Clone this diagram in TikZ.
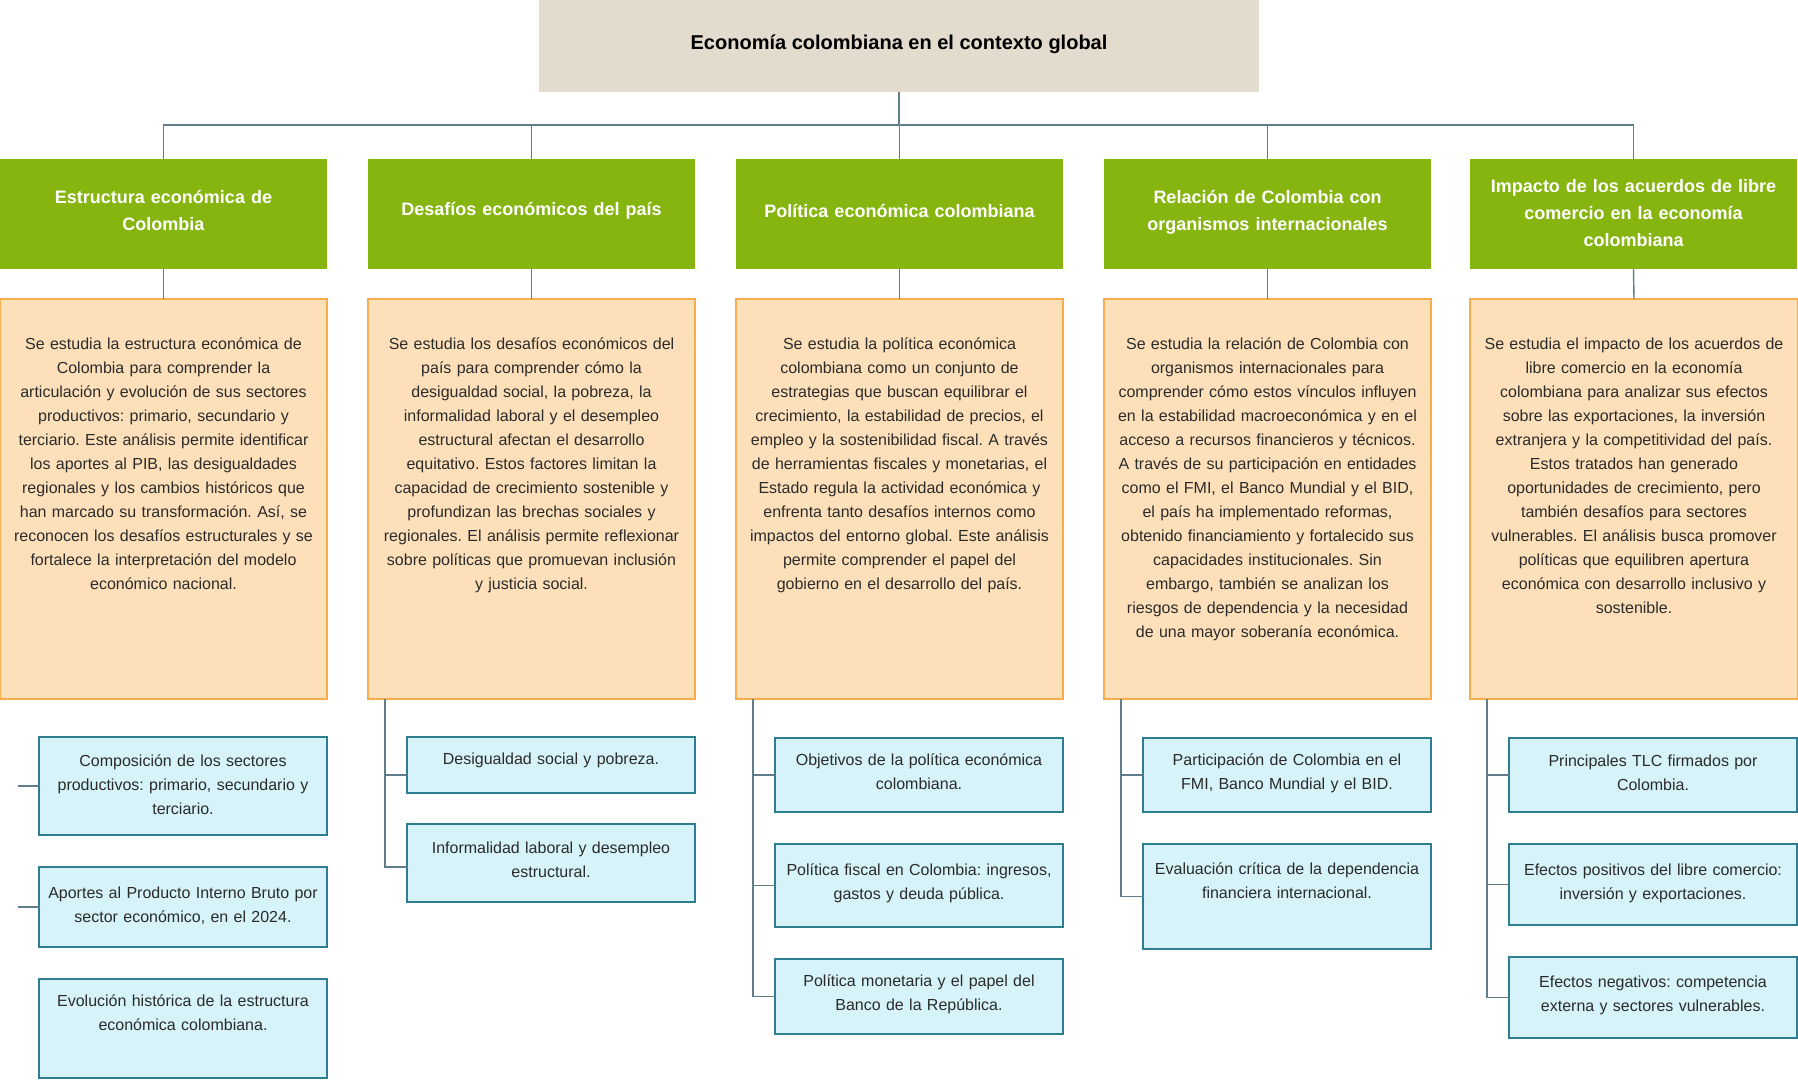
\documentclass[tikz,border=0pt]{standalone}
\usepackage{fontspec}
\setmainfont{Liberation Sans}
\usetikzlibrary{calc}
\frenchspacing
\definecolor{titlebg}{HTML}{E2DBCE}
\definecolor{hdrgreen}{HTML}{87B50F}
\definecolor{ofill}{HTML}{FDE0B9}
\definecolor{oline}{HTML}{F7AD4C}
\definecolor{bfill}{HTML}{D5F3F9}
\definecolor{bline}{HTML}{2F7D90}
\definecolor{connc}{HTML}{5F7D8A}
\definecolor{txt}{HTML}{2B2B2B}
\begin{document}
\frenchspacing
\begin{tikzpicture}[x=1pt,y=-1pt,
  titlebox/.style={fill=titlebg, anchor=north west, minimum width=720pt, minimum height=92pt, inner sep=0pt, outer sep=0pt},
  titletext/.style={anchor=base, inner sep=0pt, text=black, font=\bfseries\fontsize{20}{24}\selectfont},
  hdr/.style={fill=hdrgreen, anchor=north west, minimum width=327pt, minimum height=110pt, inner sep=0pt, outer sep=0pt},
  hdrtext/.style={inner sep=0pt, text width=318pt, align=center, text=white, font=\bfseries\fontsize{18}{27}\selectfont},
  obox/.style={fill=ofill, draw=oline, line width=1.2pt, anchor=north west, minimum width=327pt, minimum height=400pt, inner sep=0pt, outer sep=0pt},
  otext/.style={anchor=base, inner sep=0pt, text width=322pt, align=center, text=txt, font=\fontsize{16}{24}\selectfont},
  bbox/.style={fill=bfill, draw=bline, line width=1.2pt, anchor=north west, minimum width=288pt, inner sep=0pt, outer sep=0pt},
  btext/.style={anchor=base, inner sep=0pt, text width=286pt, align=center, text=txt, font=\fontsize{16}{24}\selectfont},
  conn/.style={draw=connc, line width=1.4pt}
]
\useasboundingbox (0,0) rectangle (1798,1080);

% title
\node[titlebox] (t) at (539,0) {};
\node[titletext] (tt) at ($(t.north)+(0,49)$) {Economía colombiana en el contexto global};

% headers
\node[hdr] (g1) at (0,159) {};
\node[hdr] (g2) at (368,159) {};
\node[hdr] (g3) at (736,159) {};
\node[hdr] (g4) at (1104,159) {};
\node[hdr] (g5) at (1470,159) {};
\node[hdrtext] (gt1) at ([yshift=3.5pt]g1.center) {Estructura económica de\\Colombia};
\node[hdrtext] (gt2) at ([yshift=3.5pt]g2.center) {Desafíos económicos del país};
\node[hdrtext] (gt3) at ([yshift=3.5pt]g3.center) {Política económica colombiana};
\node[hdrtext] (gt4) at ([yshift=2pt]g4.center) {Relación de Colombia con\\organismos internacionales};
\node[hdrtext] (gt5) at ([yshift=1pt]g5.center) {Impacto de los acuerdos de libre\\comercio en la economía\\colombiana};

% orange boxes
\node[obox] (o1) at (0,299) {};
\node[obox] (o2) at (368,299) {};
\node[obox] (o3) at (736,299) {};
\node[obox] (o4) at (1104,299) {};
\node[obox, minimum width=328pt] (o5) at (1470,299) {};

\node[otext] (ot1) at ($(o1.north)+(0,50)$) {Se estudia la estructura económica de\\Colombia para comprender la\\articulación y evolución de sus sectores\\productivos: primario, secundario y\\terciario. Este análisis permite identificar\\los aportes al PIB, las desigualdades\\regionales y los cambios históricos que\\han marcado su transformación. Así, se\\reconocen los desafíos estructurales y se\\fortalece la interpretación del modelo\\económico nacional.};
\node[otext] (ot2) at ($(o2.north)+(0,50)$) {Se estudia los desafíos económicos del\\país para comprender cómo la\\desigualdad social, la pobreza, la\\informalidad laboral y el desempleo\\estructural afectan el desarrollo\\equitativo. Estos factores limitan la\\capacidad de crecimiento sostenible y\\profundizan las brechas sociales y\\regionales. El análisis permite reflexionar\\sobre políticas que promuevan inclusión\\y justicia social.};
\node[otext] (ot3) at ($(o3.north)+(0,50)$) {Se estudia la política económica\\colombiana como un conjunto de\\estrategias que buscan equilibrar el\\crecimiento, la estabilidad de precios, el\\empleo y la sostenibilidad fiscal. A través\\de herramientas fiscales y monetarias, el\\Estado regula la actividad económica y\\enfrenta tanto desafíos internos como\\impactos del entorno global. Este análisis\\permite comprender el papel del\\gobierno en el desarrollo del país.};
\node[otext] (ot4) at ($(o4.north)+(0,50)$) {Se estudia la relación de Colombia con\\organismos internacionales para\\comprender cómo estos vínculos influyen\\en la estabilidad macroeconómica y en el\\acceso a recursos financieros y técnicos.\\A través de su participación en entidades\\como el FMI, el Banco Mundial y el BID,\\el país ha implementado reformas,\\obtenido financiamiento y fortalecido sus\\capacidades institucionales. Sin\\embargo, también se analizan los\\riesgos de dependencia y la necesidad\\de una mayor soberanía económica.};
\node[otext] (ot5) at ($(o5.north)+(0,50)$) {Se estudia el impacto de los acuerdos de\\libre comercio en la economía\\colombiana para analizar sus efectos\\sobre las exportaciones, la inversión\\extranjera y la competitividad del país.\\Estos tratados han generado\\oportunidades de crecimiento, pero\\también desafíos para sectores\\vulnerables. El análisis busca promover\\políticas que equilibren apertura\\económica con desarrollo inclusivo y\\sostenible.};

% sub boxes column 1
\node[bbox, minimum height=98pt] (b11) at (39,737) {};
\node[bbox, minimum height=80pt] (b12) at (39,867) {};
\node[bbox, minimum height=99pt] (b13) at (39,979) {};
% column 2
\node[bbox, minimum height=56pt] (b21) at (407,737) {};
\node[bbox, minimum height=78pt] (b22) at (407,824) {};
% column 3
\node[bbox, minimum height=74pt] (b31) at (775,738) {};
\node[bbox, minimum height=83pt] (b32) at (775,844) {};
\node[bbox, minimum height=75pt] (b33) at (775,959) {};
% column 4
\node[bbox, minimum height=74pt] (b41) at (1143,738) {};
\node[bbox, minimum height=105pt] (b42) at (1143,844) {};
% column 5
\node[bbox, minimum height=74pt] (b51) at (1509,738) {};
\node[bbox, minimum height=81pt] (b52) at (1509,844) {};
\node[bbox, minimum height=81pt] (b53) at (1509,957) {};

\node[btext] (bt11) at ($(b11.north)+(0,29)$) {Composición de los sectores\\productivos: primario, secundario y\\terciario.};
\node[btext] (bt12) at ($(b12.north)+(0,31)$) {Aportes al Producto Interno Bruto por\\sector económico, en el 2024.};
\node[btext] (bt13) at ($(b13.north)+(0,27)$) {Evolución histórica de la estructura\\económica colombiana.};
\node[btext] (bt21) at ($(b21.north)+(0,27)$) {Desigualdad social y pobreza.};
\node[btext] (bt22) at ($(b22.north)+(0,29)$) {Informalidad laboral y desempleo\\estructural.};
\node[btext] (bt31) at ($(b31.north)+(0,27)$) {Objetivos de la política económica\\colombiana.};
\node[btext] (bt32) at ($(b32.north)+(0,31)$) {Política fiscal en Colombia: ingresos,\\gastos y deuda pública.};
\node[btext] (bt33) at ($(b33.north)+(0,27)$) {Política monetaria y el papel del\\Banco de la República.};
\node[btext] (bt41) at ($(b41.north)+(0,27)$) {Participación de Colombia en el\\FMI, Banco Mundial y el BID.};
\node[btext] (bt42) at ($(b42.north)+(0,30)$) {Evaluación crítica de la dependencia\\financiera internacional.};
\node[btext] (bt51) at ($(b51.north)+(0,28)$) {Principales TLC firmados por\\Colombia.};
\node[btext] (bt52) at ($(b52.north)+(0,31)$) {Efectos positivos del libre comercio:\\inversión y exportaciones.};
\node[btext] (bt53) at ($(b53.north)+(0,30)$) {Efectos negativos: competencia\\externa y sectores vulnerables.};

% connectors
\coordinate (bus) at (0,125);
\foreach \i in {1,...,5} {
  \draw[conn] (t.south) -- (t.south |- bus) -| (g\i.north);
  \draw[conn] (g\i.south) -- (o\i.north);
}
% column 1 stubs
\draw[conn] (b11.west) -- ++(-21,0);
\draw[conn] (b12.west) -- ++(-21,0);
% trunks
\coordinate (k2) at ([xshift=17pt]o2.south west);
\coordinate (k3) at ([xshift=17pt]o3.south west);
\coordinate (k4) at ([xshift=17pt]o4.south west);
\coordinate (k5) at ([xshift=17pt]o5.south west);
\draw[conn] (k2) |- ([yshift=-10pt]b21.west);
\draw[conn] (k2) |- ([yshift=-4pt]b22.west);
\draw[conn] (k3) |- (b31.west);
\draw[conn] (k3) |- (b32.west);
\draw[conn] (k3) |- (b33.west);
\draw[conn] (k4) |- (b41.west);
\draw[conn] (k4) |- (b42.west);
\draw[conn] (k5) |- (b51.west);
\draw[conn] (k5) |- (b52.west);
\draw[conn] (k5) |- (b53.west);
\end{tikzpicture}
\end{document}
